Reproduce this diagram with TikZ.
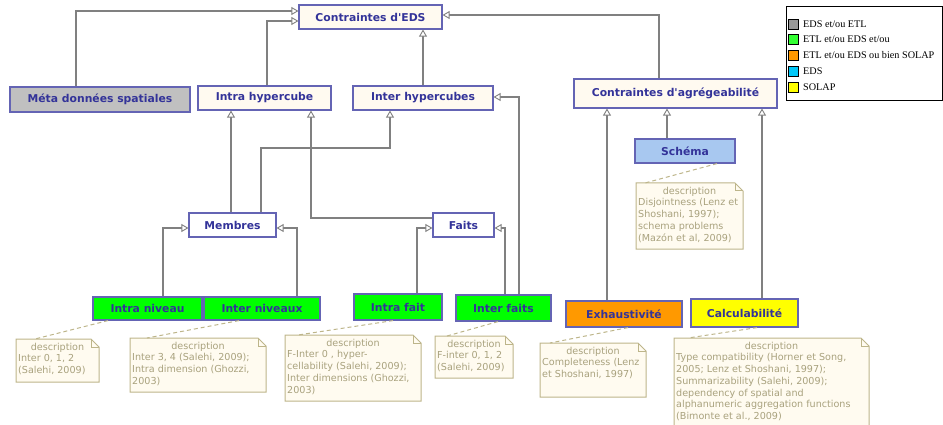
\documentclass[tikz,border=0pt]{standalone}
\usepackage{fontspec}
\usetikzlibrary{arrows.meta}
\newfontfamily\boxfont{DejaVu Sans}
\newfontfamily\legfont{Liberation Serif}
\definecolor{txtblue}{HTML}{333399}
\definecolor{boxbrd}{HTML}{6464B4}
\definecolor{cream}{HTML}{FFFAF0}
\definecolor{linegray}{HTML}{808080}
\definecolor{notebg}{HTML}{FFFBF0}
\definecolor{notebd}{HTML}{BDB58A}
\definecolor{notetx}{HTML}{A9A27E}
\definecolor{metagray}{HTML}{C0C0C0}
\definecolor{gbox}{HTML}{00FF00}
\definecolor{obox}{HTML}{FF9900}
\definecolor{ybox}{HTML}{FFFF00}
\definecolor{sbox}{HTML}{A8C8F0}
\definecolor{lgray}{HTML}{999999}
\definecolor{lgreen}{HTML}{33FF33}
\definecolor{lcyan}{HTML}{00C8F8}
\tikzset{
  box/.style={draw=boxbrd, line width=1.2pt, inner sep=0pt, fill=cream,
    font=\boxfont\bfseries\fontsize{10.8}{13}\selectfont, text=txtblue},
  gen/.style={draw=linegray, line width=1.1pt,
    -{Triangle[length=7pt,width=8pt,fill=white,line width=0.9pt]}},
  notebrd/.style={draw=notebd, fill=notebg, line width=1pt, line join=miter},
  notetxt/.style={inner sep=0pt, text=notetx, font=\boxfont\fontsize{9.6}{11.7}\selectfont},
  notelink/.style={draw=notebd, line width=1pt, dash pattern=on 4pt off 3pt},
  legsq/.style={draw=black, line width=0.8pt, minimum size=10pt, inner sep=0pt},
  legtxt/.style={inner sep=0pt, anchor=west, font=\legfont\fontsize{10.2}{12}\selectfont}
}
\newcommand{\mknote}[6]{%
  \coordinate (#1-nw) at (#2,#3);
  \draw[notebrd] (#2,#3) -- (#4-8,#3) -- (#4,#3+8) -- (#4,#5) -- (#2,#5) -- cycle;
  \draw[draw=notebd, line width=1pt] (#4-8,#3) -- (#4-8,#3+8) -- (#4,#3+8);
  \node[notetxt, anchor=base] (#1-d) at ({(#2+#4)/2},#3+11) {description};
  \node[notetxt, anchor=north west, align=left] (#1) at (#2+2,#3+15.5) {#6};
}
\begin{document}
\begin{tikzpicture}[x=1pt,y=-1pt]
\useasboundingbox (0,0) rectangle (943,425);

% boxes
\node[box, minimum width=143pt, minimum height=24pt] (eds) at (370.5,17) {Contraintes d'EDS};
\node[box, fill=metagray, minimum width=180pt, minimum height=25pt] (meta) at (100,99.5) {Méta données spatiales};
\node[box, minimum width=133pt, minimum height=24pt] (intrah) at (264.5,98) {Intra hypercube};
\node[box, minimum width=140pt, minimum height=24pt] (interh) at (423,98) {Inter hypercubes};
\node[box, minimum width=203pt, minimum height=29pt] (agreg) at (675.5,93.5) {Contraintes d'agrégeabilité};
\node[box, fill=sbox, minimum width=100pt, minimum height=24pt] (schema) at (685,151) {Schéma};
\node[box, fill=white, minimum width=87pt, minimum height=24pt] (membres) at (232.5,225) {Membres};
\node[box, fill=white, minimum width=61pt, minimum height=24pt] (faits) at (463.5,225) {Faits};
\node[box, fill=gbox, minimum width=109pt, minimum height=23pt] (intran) at (147.5,308.5) {Intra niveau};
\node[box, fill=gbox, minimum width=116pt, minimum height=23pt] (intern) at (262,308.5) {Inter niveaux};
\node[box, fill=gbox, minimum width=88pt, minimum height=26pt] (intraf) at (398,307) {Intra fait};
\node[box, fill=gbox, minimum width=95pt, minimum height=26pt] (interf) at (503.5,308) {Inter faits};
\node[box, fill=obox, minimum width=116pt, minimum height=26pt] (exh) at (624,314) {Exhaustivité};
\node[box, fill=ybox, minimum width=107pt, minimum height=28pt] (calc) at (744.5,313) {Calculabilité};

% generalisation connectors
\draw[gen] (meta.north -| 76,0) |- (eds.west |- 0,11);
\draw[gen] (intrah.north -| 267,0) |- (eds.west |- 0,21);
\draw[gen] (interh.north -| 423,0) -- (eds.south -| 423,0);
\draw[gen] (agreg.north -| 659,0) |- (eds.east |- 0,15);
\draw[gen] (membres.north -| 231,0) -- (intrah.south -| 231,0);
\draw[gen] (membres.north -| 261,0) |- (390,148) -- (interh.south -| 390,0);
\draw[gen] (faits.west |- 0,218) -| (intrah.south -| 311,0);
\draw[gen] (interf.north -| 519,0) |- (interh.east |- 0,97);
\draw[gen] (intran.north -| 163,0) |- (membres.west |- 0,228);
\draw[gen] (intern.north -| 297,0) |- (membres.east |- 0,228);
\draw[gen] (intraf.north -| 417,0) |- (faits.west |- 0,228);
\draw[gen] (interf.north -| 505,0) |- (faits.east |- 0,228);
\draw[gen] (exh.north -| 607,0) -- (agreg.south -| 607,0);
\draw[gen] (schema.north -| 667,0) -- (agreg.south -| 667,0);
\draw[gen] (calc.north -| 762,0) -- (agreg.south -| 762,0);

% notes
\mknote{n1}{16}{339}{99}{382}{Inter 0, 1, 2\\(Salehi, 2009)}
\mknote{n2}{130}{338}{266}{392}{Inter 3, 4 (Salehi, 2009);\\Intra dimension (Ghozzi,\\2003)}
\mknote{n3}{285}{335}{421}{401}{F-Inter 0 , hyper-\\cellability (Salehi, 2009);\\Inter dimensions (Ghozzi,\\2003)}
\mknote{n4}{435}{336}{513}{378}{F-inter 0, 1, 2\\(Salehi, 2009)}
\mknote{n5}{540}{343}{646}{397}{Completeness (Lenz\\et Shoshani, 1997)}
\mknote{n6}{674}{338}{869}{432}{Type compatibility (Horner et Song,\\2005; Lenz et Shoshani, 1997);\\Summarizability (Salehi, 2009);\\dependency of spatial and\\alphanumeric aggregation functions\\(Bimonte et al., 2009)}
\mknote{n7}{636}{183}{743}{249}{Disjointness (Lenz et\\Shoshani, 1997);\\schema problems\\(Mazón et al, 2009)}

\draw[notelink] (intran.south -| 108,0) -- (n1-nw -| 35,0);
\draw[notelink] (intern.south -| 239,0) -- (n2-nw -| 147,0);
\draw[notelink] (intraf.south -| 393,0) -- (n3-nw -| 298,0);
\draw[notelink] (interf.south -| 498,0) -- (n4-nw -| 447,0);
\draw[notelink] (exh.south -| 628,0) -- (n5-nw -| 550,0);
\draw[notelink] (calc.south -| 757,0) -- (n6-nw -| 688,0);
\draw[notelink] (schema.south -| 717,0) -- (n7-nw -| 645,0);

% legend
\node[draw=black, line width=1pt, fill=white, inner sep=0pt, minimum width=156pt, minimum height=94pt] (legend) at (864,54) {};
\node[legsq, fill=lgray] (sq1) at (793,24) {};
\node[legsq, fill=lgreen] (sq2) at (793,39.5) {};
\node[legsq, fill=obox] (sq3) at (793,55) {};
\node[legsq, fill=lcyan] (sq4) at (793,71) {};
\node[legsq, fill=ybox] (sq5) at (793,87) {};
\node[legtxt] (lg1) at (803,24) {EDS et/ou ETL};
\node[legtxt] (lg2) at (803,39.5) {ETL et/ou EDS et/ou};
\node[legtxt] (lg3) at (803,55) {ETL et/ou EDS ou bien SOLAP};
\node[legtxt] (lg4) at (803,71) {EDS};
\node[legtxt] (lg5) at (803,87) {SOLAP};
\end{tikzpicture}
\end{document}
